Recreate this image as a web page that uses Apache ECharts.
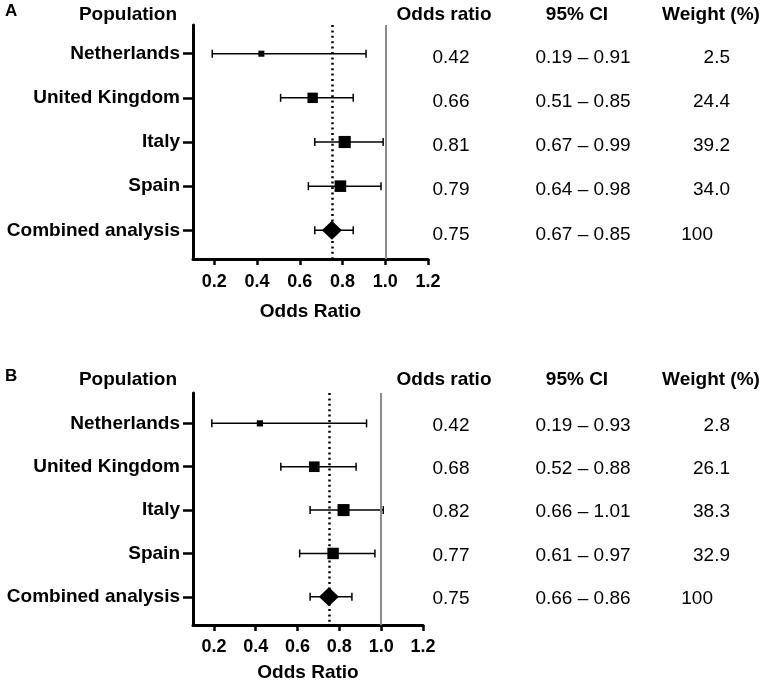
<!DOCTYPE html>
<html>
<head>
<meta charset="utf-8">
<script src="https://cdn.jsdelivr.net/npm/echarts@6/dist/echarts.min.js"></script>
<style>
  html, body { margin: 0; padding: 0; background: #fff; }
  #main { width: 765px; height: 685px; }
</style>
</head>
<body>
<div id="main"></div>
<script>
// rows, top to bottom
var populations = ['Netherlands', 'United Kingdom', 'Italy', 'Spain', 'Combined analysis'];

// panel A
var oddsA = [0.42, 0.66, 0.81, 0.79, 0.75];
var lowA = [0.19, 0.51, 0.67, 0.64, 0.67];
var highA = [0.91, 0.85, 0.99, 0.98, 0.85];
var weightA = [2.5, 24.4, 39.2, 34.0, 100];

// panel B
var oddsB = [0.42, 0.68, 0.82, 0.77, 0.75];
var lowB = [0.19, 0.52, 0.66, 0.61, 0.66];
var highB = [0.93, 0.88, 1.01, 0.97, 0.86];
var weightB = [2.8, 26.1, 38.3, 32.9, 100];

var xTicks = [0.2, 0.4, 0.6, 0.8, 1.0, 1.2];
var rowTicks = [0, 1, 2, 3, 4];
var pooledLine = 0.75;
var nullLine = 1.0;

var FONT = 'Liberation Sans, Arial, sans-serif';
var chart = echarts.init(document.getElementById('main'));

function fmtWeight(w) {
  return w === 100 ? '100' : w.toFixed(1);
}

function xAxisFor(gi, labelMargin, nameGap) {
  return {
    gridIndex: gi,
    type: 'value',
    min: 0.1,
    max: 1.2,
    name: 'Odds Ratio',
    nameLocation: 'middle',
    nameGap: nameGap,
    nameTextStyle: { fontFamily: FONT, fontWeight: 'bold', fontSize: 19, color: '#000' },
    axisLine: { show: true, onZero: false, lineStyle: { color: '#000', width: 3 } },
    axisTick: { show: true, customValues: xTicks, length: 6, lineStyle: { color: '#000', width: 2.5 } },
    axisLabel: {
      customValues: xTicks,
      margin: labelMargin,
      fontFamily: FONT, fontWeight: 'bold', fontSize: 18, color: '#000',
      formatter: function (v) { return v.toFixed(1); }
    },
    splitLine: { show: false }
  };
}

function yAxisFor(gi, min, max) {
  return {
    gridIndex: gi,
    type: 'value',
    inverse: true,
    min: min,
    max: max,
    axisLine: { show: true, onZero: false, lineStyle: { color: '#000', width: 3 } },
    axisTick: { show: true, customValues: rowTicks, length: 10, lineStyle: { color: '#000', width: 2.5 } },
    axisLabel: {
      customValues: rowTicks,
      margin: 13,
      fontFamily: FONT, fontWeight: 'bold', fontSize: 19, color: '#000',
      formatter: function (v) { return populations[Math.round(v)] || ''; }
    },
    splitLine: { show: false }
  };
}

function panelSeries(gi, odds, low, high, weight, textDy) {
  var barData = [], studyData = [], pooledData = [], tableData = [];
  for (var i = 0; i < populations.length; i++) {
    barData.push([low[i], i, high[i]]);
    tableData.push([0.1, i]);
    if (i < populations.length - 1) studyData.push([odds[i], i, weight[i]]);
    else pooledData.push([odds[i], i]);
  }
  return [
    {
      // reference lines
      type: 'line',
      xAxisIndex: gi, yAxisIndex: gi,
      data: [],
      silent: true,
      z: 1,
      markLine: {
        symbol: 'none',
        silent: true,
        label: { show: false },
        data: [
          { xAxis: pooledLine, lineStyle: { color: '#000', width: 2.5, type: [2, 3.4] } },
          { xAxis: nullLine, lineStyle: { color: '#8a8a8a', width: 2, type: 'solid' } }
        ]
      }
    },
    {
      // confidence intervals
      type: 'custom',
      xAxisIndex: gi, yAxisIndex: gi,
      data: barData,
      encode: { x: [0, 2], y: 1 },
      z: 3,
      renderItem: function (params, api) {
        var a = api.coord([api.value(0), api.value(1)]);
        var b = api.coord([api.value(2), api.value(1)]);
        var cap = 4;
        var st = { stroke: '#000', lineWidth: 1.5 };
        return {
          type: 'group',
          children: [
            { type: 'line', shape: { x1: a[0], y1: a[1], x2: b[0], y2: b[1] }, style: st },
            { type: 'line', shape: { x1: a[0], y1: a[1] - cap, x2: a[0], y2: a[1] + cap }, style: st },
            { type: 'line', shape: { x1: b[0], y1: b[1] - cap, x2: b[0], y2: b[1] + cap }, style: st }
          ]
        };
      }
    },
    {
      type: 'scatter',
      xAxisIndex: gi, yAxisIndex: gi,
      data: studyData,
      symbol: 'rect',
      symbolSize: function (v) { return 4 + 1.3 * Math.sqrt(v[2]); },
      itemStyle: { color: '#000', opacity: 1 },
      z: 4
    },
    {
      type: 'scatter',
      xAxisIndex: gi, yAxisIndex: gi,
      data: pooledData,
      symbol: 'diamond',
      symbolSize: [20, 19],
      itemStyle: { color: '#000', opacity: 1 },
      z: 4
    },
    {
      // table of values to the right
      type: 'custom',
      xAxisIndex: gi, yAxisIndex: gi,
      data: tableData,
      clip: false,
      silent: true,
      renderItem: function (params, api) {
        var i = params.dataIndex;
        var y = api.coord([0.1, api.value(1)])[1] + textDy;
        var base = { fontFamily: FONT, fontSize: 19, fill: '#000', textVerticalAlign: 'middle' };
        var wRight = weight[i] === 100 ? 713 : 730;
        return {
          type: 'group',
          children: [
            { type: 'text', style: Object.assign({ x: 451, y: y, text: odds[i].toFixed(2), textAlign: 'center' }, base) },
            { type: 'text', style: Object.assign({ x: 583, y: y, text: low[i].toFixed(2) + ' \u2013 ' + high[i].toFixed(2), textAlign: 'center' }, base) },
            { type: 'text', style: Object.assign({ x: wRight, y: y, text: fmtWeight(weight[i]), textAlign: 'right' }, base) }
          ]
        };
      }
    }
  ];
}

function headers(letter, y) {
  var hd = { fontFamily: FONT, fontWeight: 'bold', fontSize: 19, fill: '#000', textVerticalAlign: 'middle', textAlign: 'center' };
  return [
    { type: 'text', left: 5, top: y - 12, style: { text: letter, fontFamily: FONT, fontWeight: 'bold', fontSize: 17, fill: '#000' } },
    { type: 'text', x: 128, y: y, style: Object.assign({ text: 'Population' }, hd) },
    { type: 'text', x: 444, y: y, style: Object.assign({ text: 'Odds ratio' }, hd) },
    { type: 'text', x: 577, y: y, style: Object.assign({ text: '95% CI' }, hd) },
    { type: 'text', x: 711, y: y, style: Object.assign({ text: 'Weight (%)' }, hd) }
  ];
}

var option = {
  backgroundColor: '#fff',
  animation: false,
  grid: [
    { left: 193, right: 337, top: 25, height: 234 },
    { left: 193, right: 342, top: 393, height: 232 }
  ],
  xAxis: [xAxisFor(0, 14, 43), xAxisFor(1, 13, 38)],
  yAxis: [yAxisFor(0, -0.65, 4.65), yAxisFor(1, -0.7, 4.65)],
  graphic: headers('A', 15).concat(headers('B', 380)),
  series: panelSeries(0, oddsA, lowA, highA, weightA, 4).concat(panelSeries(1, oddsB, lowB, highB, weightB, 2))
};

chart.setOption(option);
</script>
</body>
</html>
